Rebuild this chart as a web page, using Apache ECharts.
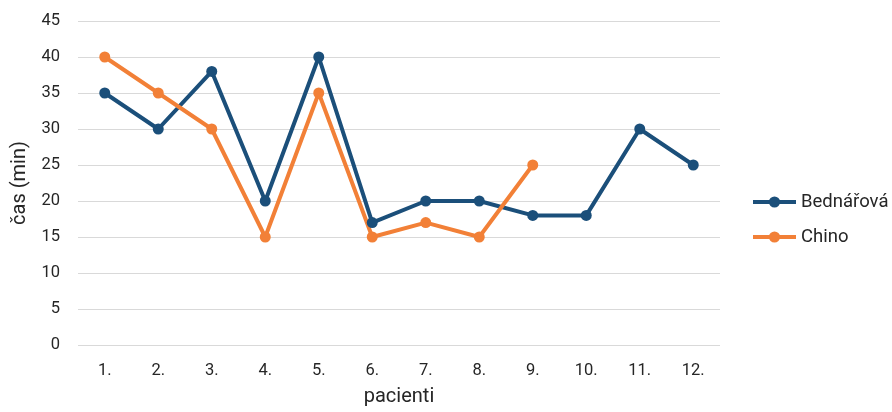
<!DOCTYPE html>
<html><head><meta charset="utf-8">
<script src="https://cdn.jsdelivr.net/npm/echarts@6/dist/echarts.min.js"></script>
<style>html,body{margin:0;padding:0;background:#fff}#c{width:892px;height:412px}</style>
</head><body><div id="c"></div>
<script>
const categories = ['1.','2.','3.','4.','5.','6.','7.','8.','9.','10.','11.','12.'];
const bednarova = [35,30,38,20,40,17,20,20,18,18,30,25];
const chino = [40,35,30,15,35,15,17,15,25,null,null,null];
const yTicks = {min:0,max:45,interval:5};
const font = 'Roboto';
const chart = echarts.init(document.getElementById('c'));
chart.setOption({
  animation:false,
  textStyle:{fontFamily:font},
  grid:{left:78,right:172,top:21,bottom:64,containLabel:false},
  legend:{
    orient:'vertical', left:751, top:192, itemGap:15, padding:0,
    itemWidth:43, itemHeight:14,
    lineStyle:{width:4},
    textStyle:{fontFamily:font,fontSize:18.5,lineHeight:20,color:'#262626'},
    data:['Bednářová','Chino']
  },
  xAxis:{
    type:'category', data:categories, boundaryGap:true,
    name:'pacienti', nameLocation:'middle', nameGap:42,
    nameTextStyle:{fontFamily:font,fontSize:20,color:'#262626'},
    axisLine:{show:false}, axisTick:{show:false},
    axisLabel:{fontFamily:font,fontSize:16.5,color:'#262626',margin:17}
  },
  yAxis:{
    type:'value', min:yTicks.min, max:yTicks.max, interval:yTicks.interval,
    name:'čas (min)', nameLocation:'middle', nameGap:48, nameRotate:90,
    nameTextStyle:{fontFamily:font,fontSize:20,color:'#262626'},
    axisLine:{show:false}, axisTick:{show:false},
    axisLabel:{fontFamily:font,fontSize:16.5,color:'#262626',margin:18},
    splitLine:{lineStyle:{color:'#d9d9d9',width:1}}
  },
  series:[
    {name:'Bednářová',type:'line',data:bednarova,symbol:'circle',symbolSize:11,
     lineStyle:{color:'#1b4f7a',width:4},itemStyle:{color:'#1b4f7a'}},
    {name:'Chino',type:'line',data:chino,symbol:'circle',symbolSize:11,
     lineStyle:{color:'#f28037',width:4},itemStyle:{color:'#f28037'}}
  ]
});
</script></body></html>
